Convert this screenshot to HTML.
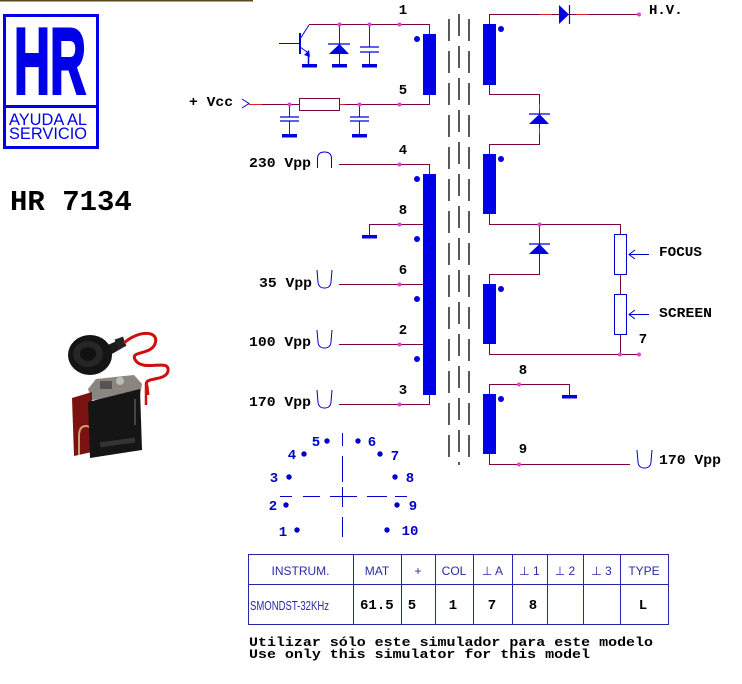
<!DOCTYPE html>
<html><head><meta charset="utf-8"><style>
html,body{margin:0;padding:0;background:#fff;}
svg{display:block;}
.m{font-family:"Liberation Mono",monospace;font-weight:bold;}
.s{font-family:"Liberation Sans","DejaVu Sans",sans-serif;}
</style></head><body>
<svg width="742" height="684" viewBox="0 0 742 684" xmlns="http://www.w3.org/2000/svg">
<rect width="742" height="684" fill="#fff"/>
<line x1="0" y1="0.75" x2="253" y2="0.75" stroke="#5a4a1c" stroke-width="1.5"/>

<!-- LOGO -->
<rect x="4.5" y="15.5" width="93" height="132" fill="none" stroke="#0000e8" stroke-width="3"/>
<line x1="3" y1="106.5" x2="99" y2="106.5" stroke="#0000e8" stroke-width="3"/>
<text x="14" y="93.5" font-family="Liberation Sans" font-weight="bold" font-size="94" textLength="72" lengthAdjust="spacingAndGlyphs" fill="#0000e8" stroke="#0000e8" stroke-width="3">HR</text>
<text x="9" y="125" class="s" font-size="16.4" fill="#0000e8">AYUDA AL</text>
<text x="9" y="139" class="s" font-size="16.4" fill="#0000e8">SERVICIO</text>

<text x="10" y="210" class="m" font-size="29" fill="#000">HR 7134</text>

<!-- PHOTO -->
<g>
<path d="M92 352 L119 340 L124 347 L98 362 Z" fill="#1a1a1a"/>
<ellipse cx="90" cy="355" rx="22" ry="20" fill="#141414"/>
<ellipse cx="88" cy="354" rx="15" ry="13" fill="#262626"/>
<ellipse cx="88" cy="354" rx="8" ry="7" fill="#111"/>
<rect x="116" y="338" width="9" height="10" fill="#222" transform="rotate(-20 120 343)"/>
<path d="M124 343 C138 330,160 330,155 344 C150 356,128 350,136 361 C145 372,170 358,168 371 C166 382,142 376,147 386 L148 395" fill="none" stroke="#cc1010" stroke-width="3"/>
<path d="M146 384 L146 405" stroke="#cc1010" stroke-width="2.5"/>
<polygon points="88,389 96,379 134,375 142,384 140,396 92,400" fill="#8a8580"/>
<rect x="100" y="381" width="12" height="8" fill="#555"/>
<circle cx="120" cy="381" r="4" fill="#bbb"/>
<polygon points="72,398 92,392 92,452 74,456" fill="#7a1212"/>
<path d="M79 455 V436 Q79 426 86 426 Q92 426 92 436 V455" fill="none" stroke="#c9a070" stroke-width="2"/>
<polygon points="88,402 140,389 142,450 90,458" fill="#151515"/>
<rect x="100" y="440" width="35" height="5" fill="#333" transform="rotate(-8 117 442)"/>
<path d="M135 399 L135 425" stroke="#444" stroke-width="2"/>
</g>

<!-- TOP PRIMARY CIRCUIT -->
<g fill="none" stroke="#800040" stroke-width="1">
<path d="M309 24.5 H429.5 V34"/>
<path d="M249 104.5 H429.5 V95"/>
<path d="M339.5 24.5 V64"/>
<path d="M369.5 24.5 V47 M369.5 52 V64"/>
<path d="M289.5 104.5 V117 M289.5 121 V134"/>
<path d="M359.5 104.5 V117 M359.5 121 V134"/>
</g>
<path d="M249 104.5 H262" stroke="#e02020" stroke-width="1"/>
<path d="M339 104.5 H345" stroke="#e02020" stroke-width="1"/>
<rect x="299.5" y="98.5" width="40" height="12" fill="#fff" stroke="#800040" stroke-width="1"/>
<!-- transistor -->
<g stroke="#0000e0" fill="none">
<line x1="279" y1="43.5" x2="299" y2="43.5" stroke-width="1"/>
<line x1="300" y1="33" x2="300" y2="54" stroke-width="2"/>
<line x1="300" y1="39" x2="309" y2="25" stroke-width="1"/>
<line x1="300" y1="47" x2="308.5" y2="53" stroke-width="1"/>
<line x1="308.5" y1="53" x2="308.5" y2="64" stroke-width="1.5"/>
</g>
<polygon points="304,55 310,57 309,50" fill="#0000e0"/>
<rect x="302" y="64" width="15" height="3.5" fill="#0000e0"/>
<!-- diode -->
<polygon points="329,54 349,54 339.5,44" fill="#0000e0"/>
<line x1="328" y1="44" x2="350" y2="44" stroke="#0000e0" stroke-width="1.2"/>
<rect x="332" y="64" width="15" height="3.5" fill="#0000e0"/>
<!-- cap -->
<line x1="360" y1="47" x2="379" y2="47" stroke="#0000e0" stroke-width="1.3"/>
<line x1="360" y1="52" x2="379" y2="52" stroke="#0000e0" stroke-width="1.3"/>
<rect x="362" y="64" width="15" height="3.5" fill="#0000e0"/>
<!-- vcc caps -->
<line x1="280" y1="117" x2="299" y2="117" stroke="#0000e0" stroke-width="1.3"/>
<line x1="280" y1="121" x2="299" y2="121" stroke="#0000e0" stroke-width="1.3"/>
<rect x="282" y="134" width="15" height="3.5" fill="#0000e0"/>
<line x1="350" y1="117" x2="369" y2="117" stroke="#0000e0" stroke-width="1.3"/>
<line x1="350" y1="121" x2="369" y2="121" stroke="#0000e0" stroke-width="1.3"/>
<rect x="352" y="134" width="15" height="3.5" fill="#0000e0"/>
<path d="M242 99 L249 103.5 L242 108" fill="none" stroke="#0000e0" stroke-width="1"/>
<text x="189" y="106" class="m" font-size="14" textLength="44" lengthAdjust="spacingAndGlyphs" fill="#000">+ Vcc</text>
<rect x="423" y="34" width="13" height="61" fill="#0000e8"/>
<circle cx="417" cy="39" r="3" fill="#0000e8"/>
<g fill="#e040e0"><circle cx="339.5" cy="24.5" r="2"/><circle cx="369.5" cy="24.5" r="2"/><circle cx="399.5" cy="24.5" r="2"/>
<circle cx="289.5" cy="104.5" r="2"/><circle cx="359.5" cy="104.5" r="2"/><circle cx="399.5" cy="104.5" r="2"/></g>
<text x="403" y="14" class="m" font-size="14" fill="#000" text-anchor="middle">1</text>
<text x="403" y="94" class="m" font-size="14" fill="#000" text-anchor="middle">5</text>

<!-- MAIN PRIMARY -->
<g fill="none" stroke="#800040" stroke-width="1">
<path d="M339 164.5 H429.5 V174"/>
<path d="M369.5 236 V224.5 H429.5"/>
<path d="M339 284.5 H429.5"/>
<path d="M339 344.5 H429.5"/>
<path d="M429.5 395 V404.5 H339"/>
</g>
<rect x="362" y="235" width="15" height="3.5" fill="#0000e0"/>
<rect x="423" y="174" width="13" height="221" fill="#0000e8"/>
<g fill="#0000e8"><circle cx="417" cy="179" r="3"/><circle cx="417" cy="239" r="3"/><circle cx="417" cy="299" r="3"/><circle cx="417" cy="359" r="3"/></g>
<g fill="#e040e0"><circle cx="399.5" cy="164.5" r="2"/><circle cx="399.5" cy="224.5" r="2"/><circle cx="399.5" cy="284.5" r="2"/><circle cx="399.5" cy="344.5" r="2"/><circle cx="399.5" cy="404.5" r="2"/></g>
<g class="m" font-size="14" fill="#000" text-anchor="middle">
<text x="403" y="154">4</text><text x="403" y="214">8</text><text x="403" y="274">6</text><text x="403" y="334">2</text><text x="403" y="394">3</text>
</g>
<g class="m" font-size="14" fill="#000">
<text x="249" y="167" textLength="62" lengthAdjust="spacingAndGlyphs">230 Vpp</text>
<text x="259" y="287" textLength="53" lengthAdjust="spacingAndGlyphs">35 Vpp</text>
<text x="249" y="346" textLength="62" lengthAdjust="spacingAndGlyphs">100 Vpp</text>
<text x="249" y="406" textLength="62" lengthAdjust="spacingAndGlyphs">170 Vpp</text>
</g>
<g fill="none" stroke="#0000cc" stroke-width="1">
<path d="M317.5 168 V158 Q318 152 324.5 152 Q331 152 331.5 158 V168"/>
<path d="M317 270 L318 282 Q318.5 288 324.5 288 Q330.5 288 331 282 L332 270"/>
<path d="M317 330 L318 342 Q318.5 348 324.5 348 Q330.5 348 331 342 L332 330"/>
<path d="M317 390 L318 402 Q318.5 408 324.5 408 Q330.5 408 331 402 L332 390"/>
<path d="M637 450 L638 462 Q638.5 468 644.5 468 Q650.5 468 651 462 L652 450"/>
</g>

<!-- CORE -->
<g stroke="#000" stroke-width="1.3" stroke-dasharray="22 10">
<line x1="449" y1="19" x2="449" y2="465"/>
<line x1="459" y1="14" x2="459" y2="465"/>
<line x1="469" y1="19" x2="469" y2="465"/>
</g>

<!-- SECONDARY -->
<g fill="none" stroke="#800040" stroke-width="1">
<path d="M489.5 24 V14.5 H639"/>
<path d="M489.5 85 V94.5 H539.5 V144.5 H489.5 V154"/>
<path d="M489.5 214 V224.5 H620.5 V234"/>
<path d="M539.5 224.5 V274.5 H489.5 V284"/>
<path d="M489.5 344 V354.5 H639"/>
<path d="M620.5 274 V294 M620.5 334 V354.5"/>
<path d="M489.5 394 V384.5 H569.5 V396"/>
<path d="M489.5 454 V464.5 H630"/>
</g>
<g stroke="#e02020" stroke-width="1"><path d="M540 14.5 H552 M576 14.5 H588"/><path d="M539.5 104 V110 M539.5 128 V134"/></g>
<polygon points="559,5 569,14.5 559,24" fill="#0000e0"/>
<line x1="569.5" y1="5" x2="569.5" y2="24" stroke="#0000e0" stroke-width="1.2"/>
<polygon points="529,124 549,124 539.5,114" fill="#0000e0"/>
<line x1="529" y1="114" x2="550" y2="114" stroke="#0000e0" stroke-width="1.2"/>
<polygon points="529,254 549,254 539.5,244" fill="#0000e0"/>
<line x1="529" y1="244" x2="550" y2="244" stroke="#0000e0" stroke-width="1.2"/>
<rect x="614.5" y="234.5" width="12" height="40" fill="#fff" stroke="#0000cc" stroke-width="1"/>
<rect x="614.5" y="294.5" width="12" height="40" fill="#fff" stroke="#0000cc" stroke-width="1"/>
<g fill="none" stroke="#0000cc" stroke-width="1">
<path d="M649 254.5 H629 M635 250 L629 254.5 L635 259"/>
<path d="M649 314.5 H629 M635 310 L629 314.5 L635 319"/>
</g>
<rect x="562" y="395" width="15" height="3.5" fill="#0000e0"/>
<g fill="#0000e8">
<rect x="483" y="24" width="13" height="61"/><rect x="483" y="154" width="13" height="60"/>
<rect x="483" y="284" width="13" height="60"/><rect x="483" y="394" width="13" height="60"/>
<circle cx="501" cy="29" r="3"/><circle cx="501" cy="159" r="3"/><circle cx="501" cy="289" r="3"/><circle cx="501" cy="399" r="3"/>
</g>
<g fill="#e040e0"><circle cx="639" cy="14.5" r="2"/><circle cx="539.5" cy="224.5" r="2"/><circle cx="620" cy="354.5" r="2"/><circle cx="639" cy="354.5" r="2"/><circle cx="519" cy="384.5" r="2"/><circle cx="519" cy="464.5" r="2"/></g>
<g class="m" font-size="14" fill="#000">
<text x="649" y="14">H.V.</text>
<text x="659" y="256" textLength="43" lengthAdjust="spacingAndGlyphs">FOCUS</text>
<text x="659" y="317" textLength="53" lengthAdjust="spacingAndGlyphs">SCREEN</text>
<text x="643" y="343" text-anchor="middle">7</text>
<text x="523" y="374" text-anchor="middle">8</text>
<text x="523" y="453" text-anchor="middle">9</text>
<text x="659" y="464" textLength="62" lengthAdjust="spacingAndGlyphs">170 Vpp</text>
</g>

<!-- PIN DIAGRAM -->
<g fill="#0000cc">
<circle cx="327" cy="441" r="2.7"/><circle cx="358" cy="441" r="2.7"/><circle cx="304" cy="454" r="2.7"/><circle cx="380" cy="454" r="2.7"/>
<circle cx="289" cy="477" r="2.7"/><circle cx="395" cy="477" r="2.7"/><circle cx="286" cy="505" r="2.7"/><circle cx="397" cy="505" r="2.7"/>
<circle cx="297" cy="530" r="2.7"/><circle cx="387" cy="530" r="2.7"/>
</g>
<g stroke="#0000cc" stroke-width="1">
<path d="M342.5 433 V446 M342.5 456 V482 M342.5 487 V507 M342.5 517 V537"/>
<path d="M280 496.5 H292 M303 496.5 H320 M330 496.5 H357 M367 496.5 H387 M395 496.5 H407"/>
</g>
<g class="m" font-size="14" fill="#0000cc" text-anchor="middle">
<text x="316" y="446">5</text><text x="372" y="446">6</text><text x="292" y="459">4</text><text x="395" y="460">7</text>
<text x="274" y="482">3</text><text x="410" y="482">8</text><text x="273" y="510">2</text><text x="413" y="510">9</text>
<text x="283" y="536">1</text><text x="410" y="535">10</text>
</g>

<!-- TABLE -->
<g stroke="#2525a8" stroke-width="1" fill="none">
<rect x="248.5" y="554.5" width="420" height="70"/>
<line x1="248.5" y1="584.5" x2="668.5" y2="584.5"/>
<line x1="353.5" y1="554.5" x2="353.5" y2="624.5"/>
<line x1="401.5" y1="554.5" x2="401.5" y2="624.5"/>
<line x1="435.5" y1="554.5" x2="435.5" y2="624.5"/>
<line x1="473.5" y1="554.5" x2="473.5" y2="624.5"/>
<line x1="512.5" y1="554.5" x2="512.5" y2="624.5"/>
<line x1="547.5" y1="554.5" x2="547.5" y2="624.5"/>
<line x1="583.5" y1="554.5" x2="583.5" y2="624.5"/>
<line x1="620.5" y1="554.5" x2="620.5" y2="624.5"/>
</g>
<g class="s" font-size="12" fill="#2a2aa8" text-anchor="middle">
<text x="300.5" y="575">INSTRUM.</text><text x="377" y="575">MAT</text><text x="418" y="575">+</text>
<text x="454" y="575">COL</text><text x="492.5" y="575">⊥ A</text><text x="529.5" y="575">⊥ 1</text>
<text x="565" y="575">⊥ 2</text><text x="601.5" y="575">⊥ 3</text><text x="644" y="575">TYPE</text>
</g>
<text x="250" y="610" font-family="Liberation Sans, sans-serif" font-size="13" textLength="79" lengthAdjust="spacingAndGlyphs" fill="#2a2aa8">SMONDST-32KHz</text>
<g class="m" font-size="14" fill="#000">
<text x="360" y="609">61.5</text>
<text x="412" y="609" text-anchor="middle">5</text>
<text x="453" y="609" text-anchor="middle">1</text>
<text x="492" y="609" text-anchor="middle">7</text>
<text x="533" y="609" text-anchor="middle">8</text>
<text x="643" y="609" text-anchor="middle">L</text>
</g>
<g class="m" font-size="13" fill="#000">
<text x="249" y="646" textLength="404" lengthAdjust="spacingAndGlyphs">Utilizar sólo este simulador para este modelo</text>
<text x="249" y="658" textLength="341" lengthAdjust="spacingAndGlyphs">Use only this simulator for this model</text>
</g>
</svg>
</body></html>
